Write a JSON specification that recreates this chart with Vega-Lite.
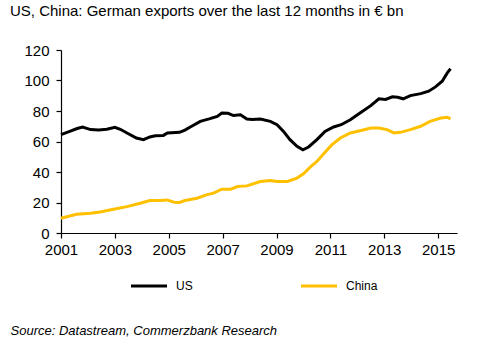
{
  "$schema": "https://vega.github.io/schema/vega-lite/v6.json",
  "width": 396,
  "height": 183,
  "autosize": {"type": "none"},
  "padding": {"left": 61, "top": 50, "right": 43, "bottom": 114},
  "background": "white",
  "title": {
    "text": "US, China: German exports over the last 12 months in € bn",
    "anchor": "start",
    "frame": "group",
    "dx": -51,
    "fontSize": 15,
    "fontWeight": "normal",
    "font": "Liberation Sans",
    "color": "#000000",
    "offset": 24
  },
  "config": {
    "font": "Liberation Sans",
    "view": {"stroke": null},
    "axis": {
      "domainColor": "#000000",
      "tickColor": "#000000",
      "labelColor": "#000000",
      "labelFont": "Liberation Sans",
      "labelFontSize": 15,
      "grid": false,
      "tickSize": 5,
      "domainWidth": 1.2,
      "tickWidth": 1.2
    }
  },
  "data": {"values": [
    {"year": 2001.0, "value": 64.5, "country": "US"},
    {"year": 2001.3, "value": 66.5, "country": "US"},
    {"year": 2001.6, "value": 68.5, "country": "US"},
    {"year": 2001.8, "value": 69.5, "country": "US"},
    {"year": 2002.1, "value": 67.8, "country": "US"},
    {"year": 2002.4, "value": 67.5, "country": "US"},
    {"year": 2002.7, "value": 68.0, "country": "US"},
    {"year": 2003.0, "value": 69.3, "country": "US"},
    {"year": 2003.2, "value": 68.0, "country": "US"},
    {"year": 2003.45, "value": 65.6, "country": "US"},
    {"year": 2003.8, "value": 62.3, "country": "US"},
    {"year": 2004.06, "value": 61.2, "country": "US"},
    {"year": 2004.3, "value": 63.0, "country": "US"},
    {"year": 2004.5, "value": 63.8, "country": "US"},
    {"year": 2004.8, "value": 64.0, "country": "US"},
    {"year": 2004.95, "value": 65.6, "country": "US"},
    {"year": 2005.4, "value": 66.0, "country": "US"},
    {"year": 2005.6, "value": 67.5, "country": "US"},
    {"year": 2005.8, "value": 69.5, "country": "US"},
    {"year": 2006.17, "value": 73.2, "country": "US"},
    {"year": 2006.5, "value": 74.8, "country": "US"},
    {"year": 2006.8, "value": 76.5, "country": "US"},
    {"year": 2006.97, "value": 78.7, "country": "US"},
    {"year": 2007.2, "value": 78.5, "country": "US"},
    {"year": 2007.4, "value": 77.0, "country": "US"},
    {"year": 2007.66, "value": 77.5, "country": "US"},
    {"year": 2007.9, "value": 74.8, "country": "US"},
    {"year": 2008.1, "value": 74.5, "country": "US"},
    {"year": 2008.4, "value": 74.8, "country": "US"},
    {"year": 2008.77, "value": 73.2, "country": "US"},
    {"year": 2009.02, "value": 71.0, "country": "US"},
    {"year": 2009.26, "value": 66.6, "country": "US"},
    {"year": 2009.5, "value": 61.2, "country": "US"},
    {"year": 2009.76, "value": 56.8, "country": "US"},
    {"year": 2009.98, "value": 54.6, "country": "US"},
    {"year": 2010.19, "value": 56.4, "country": "US"},
    {"year": 2010.5, "value": 61.2, "country": "US"},
    {"year": 2010.8, "value": 66.6, "country": "US"},
    {"year": 2011.12, "value": 69.5, "country": "US"},
    {"year": 2011.4, "value": 71.0, "country": "US"},
    {"year": 2011.74, "value": 74.3, "country": "US"},
    {"year": 2012.1, "value": 78.7, "country": "US"},
    {"year": 2012.5, "value": 83.5, "country": "US"},
    {"year": 2012.8, "value": 88.0, "country": "US"},
    {"year": 2013.05, "value": 87.6, "country": "US"},
    {"year": 2013.3, "value": 89.3, "country": "US"},
    {"year": 2013.5, "value": 89.0, "country": "US"},
    {"year": 2013.7, "value": 88.0, "country": "US"},
    {"year": 2013.97, "value": 90.1, "country": "US"},
    {"year": 2014.35, "value": 91.4, "country": "US"},
    {"year": 2014.65, "value": 93.0, "country": "US"},
    {"year": 2014.9, "value": 95.8, "country": "US"},
    {"year": 2015.15, "value": 99.5, "country": "US"},
    {"year": 2015.34, "value": 105.0, "country": "US"},
    {"year": 2015.46, "value": 107.7, "country": "US"},
    {"year": 2001.0, "value": 9.7, "country": "China"},
    {"year": 2001.58, "value": 12.3, "country": "China"},
    {"year": 2002.1, "value": 13.0, "country": "China"},
    {"year": 2002.45, "value": 13.8, "country": "China"},
    {"year": 2002.95, "value": 15.6, "country": "China"},
    {"year": 2003.45, "value": 17.3, "country": "China"},
    {"year": 2003.94, "value": 19.5, "country": "China"},
    {"year": 2004.3, "value": 21.3, "country": "China"},
    {"year": 2004.7, "value": 21.3, "country": "China"},
    {"year": 2004.93, "value": 21.7, "country": "China"},
    {"year": 2005.2, "value": 20.2, "country": "China"},
    {"year": 2005.4, "value": 20.0, "country": "China"},
    {"year": 2005.6, "value": 21.3, "country": "China"},
    {"year": 2006.05, "value": 22.8, "country": "China"},
    {"year": 2006.4, "value": 25.0, "country": "China"},
    {"year": 2006.66, "value": 26.1, "country": "China"},
    {"year": 2006.97, "value": 28.7, "country": "China"},
    {"year": 2007.3, "value": 28.7, "country": "China"},
    {"year": 2007.55, "value": 30.5, "country": "China"},
    {"year": 2007.9, "value": 30.9, "country": "China"},
    {"year": 2008.4, "value": 33.8, "country": "China"},
    {"year": 2008.77, "value": 34.4, "country": "China"},
    {"year": 2009.02, "value": 33.8, "country": "China"},
    {"year": 2009.4, "value": 33.8, "country": "China"},
    {"year": 2009.76, "value": 36.0, "country": "China"},
    {"year": 2010.0, "value": 38.8, "country": "China"},
    {"year": 2010.25, "value": 43.2, "country": "China"},
    {"year": 2010.5, "value": 46.9, "country": "China"},
    {"year": 2010.75, "value": 52.0, "country": "China"},
    {"year": 2011.06, "value": 57.9, "country": "China"},
    {"year": 2011.37, "value": 62.3, "country": "China"},
    {"year": 2011.74, "value": 65.6, "country": "China"},
    {"year": 2012.1, "value": 67.1, "country": "China"},
    {"year": 2012.5, "value": 68.9, "country": "China"},
    {"year": 2012.8, "value": 68.9, "country": "China"},
    {"year": 2013.1, "value": 67.8, "country": "China"},
    {"year": 2013.36, "value": 65.6, "country": "China"},
    {"year": 2013.6, "value": 66.0, "country": "China"},
    {"year": 2013.97, "value": 67.8, "country": "China"},
    {"year": 2014.35, "value": 70.0, "country": "China"},
    {"year": 2014.7, "value": 73.2, "country": "China"},
    {"year": 2015.1, "value": 75.4, "country": "China"},
    {"year": 2015.34, "value": 75.9, "country": "China"},
    {"year": 2015.46, "value": 74.8, "country": "China"}
  ]},
  "mark": {"type": "line", "strokeWidth": 3, "interpolate": "linear"},
  "encoding": {
    "x": {
      "field": "year",
      "type": "quantitative",
      "scale": {"domain": [2001, 2015.7], "nice": false, "zero": false},
      "axis": {
        "title": "Source: Datastream, Commerzbank Research",
        "titleFont": "Liberation Sans",
        "titleFontStyle": "italic",
        "titleFontWeight": "normal",
        "titleFontSize": 13,
        "titleColor": "#000000",
        "titleAlign": "left",
        "titleAnchor": "start",
        "titleBaseline": "alphabetic",
        "titleX": -51,
        "titleY": 101,
        "values": [2001, 2003, 2005, 2007, 2009, 2011, 2013, 2015],
        "format": "d",
        "labelPadding": 4,
        "labelFlush": false
      }
    },
    "y": {
      "field": "value",
      "type": "quantitative",
      "scale": {"domain": [0, 120], "nice": false},
      "axis": {
        "title": null,
        "values": [0, 20, 40, 60, 80, 100, 120],
        "labelOverlap": false,
        "labelPadding": 7
      }
    },
    "color": {
      "field": "country",
      "type": "nominal",
      "sort": ["US", "China"],
      "scale": {"domain": ["US", "China"], "range": ["#000000", "#FFC000"]},
      "legend": {
        "title": null,
        "orient": "none",
        "legendX": 82,
        "legendY": 230,
        "direction": "horizontal",
        "columns": 2,
        "columnPadding": 102,
        "symbolType": "M-4,0H4",
        "symbolSize": 81,
        "symbolStrokeWidth": 3,
        "labelOffset": 21,
        "labelFontSize": 12,
        "labelColor": "#000000",
        "labelFont": "Liberation Sans"
      }
    }
  }
}
